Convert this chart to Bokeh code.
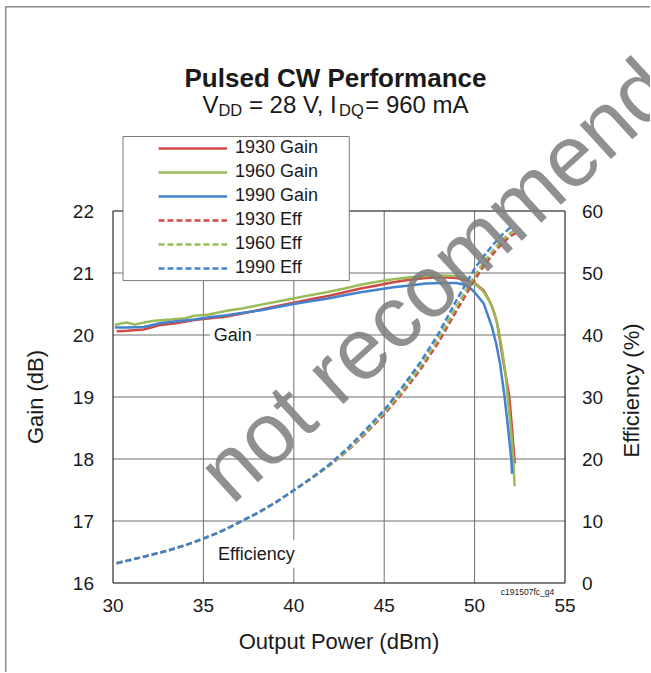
import math
from bokeh.plotting import figure
from bokeh.models import Range1d, LinearAxis, FixedTicker, Label, Legend, LegendItem
from bokeh.embed import file_html
from bokeh.resources import INLINE

# ---------------- data ----------------
gain_1930_x = [30.2, 30.8, 31.7, 32.6, 33.5, 34.5, 35.4, 36.3, 37.2, 38.2, 39.1, 40.0, 41.0, 41.9,
               42.8, 43.7, 44.6, 45.5, 46.4, 47.3, 48.2, 49.0, 49.6, 50.0, 50.5, 50.77, 51.0,
               51.24, 51.42, 51.6, 51.75, 51.92, 52.07, 52.2, 52.23]
gain_1930_y = [20.06, 20.07, 20.09, 20.16, 20.19, 20.24, 20.27, 20.30, 20.35, 20.41, 20.47, 20.52,
               20.58, 20.63, 20.69, 20.75, 20.80, 20.85, 20.89, 20.92, 20.93, 20.92, 20.88, 20.84,
               20.72, 20.58, 20.43, 20.20, 19.88, 19.55, 19.30, 19.00, 18.50, 18.00, 17.93]

gain_1960_x = [30.1, 30.5, 30.8, 31.2, 31.7, 32.3, 33.2, 34.0, 34.5, 35.3, 36.3, 37.2, 38.2, 39.1,
               40.0, 40.9, 41.8, 42.8, 43.7, 44.6, 45.5, 46.4, 47.3, 48.2, 49.0, 49.5, 50.0, 50.5,
               50.87, 51.1, 51.3, 51.5, 51.7, 51.83, 52.0, 52.14, 52.21]
gain_1960_y = [20.16, 20.19, 20.20, 20.17, 20.20, 20.23, 20.25, 20.27, 20.31, 20.33, 20.39, 20.43,
               20.49, 20.54, 20.59, 20.64, 20.69, 20.75, 20.81, 20.86, 20.90, 20.93, 20.95, 20.96,
               20.95, 20.92, 20.83, 20.70, 20.52, 20.35, 20.12, 19.80, 19.40, 19.00, 18.50, 18.00,
               17.56]

gain_1990_x = [30.1, 30.8, 31.7, 32.6, 33.5, 34.5, 35.4, 36.3, 37.2, 38.2, 39.1, 40.0, 41.0, 41.9,
               42.8, 43.7, 44.6, 45.5, 46.4, 47.3, 48.2, 49.0, 49.6, 50.0, 50.5, 50.96, 51.2, 51.4,
               51.66, 51.85, 52.03, 52.07]
gain_1990_y = [20.12, 20.12, 20.13, 20.19, 20.22, 20.25, 20.29, 20.32, 20.36, 20.40, 20.45, 20.50,
               20.55, 20.59, 20.64, 20.69, 20.73, 20.77, 20.80, 20.83, 20.84, 20.84, 20.80, 20.69,
               20.51, 20.13, 19.85, 19.55, 19.00, 18.50, 18.00, 17.76]

eff_x_1930 = [30.2, 31, 32, 33, 34, 35, 36, 37, 38, 39, 40, 41, 42, 43, 44, 45, 46, 47, 48, 49,
              50, 50.5, 51, 51.5, 52.0, 52.25]
eff_1930 = [3.2, 3.75, 4.45, 5.2, 6.1, 7.15, 8.35, 9.8, 11.3, 13.0, 14.95, 16.9, 19.0, 21.4, 24.2,
            27.2, 30.6, 34.4, 38.8, 43.9, 48.9, 51.1, 53.0, 54.7, 56.0, 56.4]
eff_x_1960 = [30.2, 31, 32, 33, 34, 35, 36, 37, 38, 39, 40, 41, 42, 43, 44, 45, 46, 47, 48, 49,
              50, 50.5, 51, 51.5, 52.0, 52.25]
eff_1960 = [3.2, 3.75, 4.45, 5.2, 6.1, 7.15, 8.35, 9.8, 11.3, 13.0, 14.95, 16.9, 19.0, 21.5, 24.4,
            27.5, 31.0, 34.9, 39.4, 44.6, 49.6, 51.7, 53.6, 55.3, 56.5, 56.9]
eff_x_1990 = [30.2, 31, 32, 33, 34, 35, 36, 37, 38, 39, 40, 41, 42, 43, 44, 45, 46, 47, 48, 49,
              50, 50.5, 51, 51.5, 52.0, 52.12]
eff_1990 = [3.2, 3.75, 4.45, 5.2, 6.1, 7.15, 8.35, 9.8, 11.3, 13.0, 14.95, 17.0, 19.2, 21.8, 24.8,
            27.9, 31.6, 35.6, 40.2, 45.6, 50.7, 52.7, 54.5, 56.1, 57.4, 57.6]

x_ticks = [30, 35, 40, 45, 50, 55]
gain_ticks = [16, 17, 18, 19, 20, 21, 22]
eff_ticks = [0, 10, 20, 30, 40, 50, 60]

series_names = ["1930 Gain", "1960 Gain", "1990 Gain", "1930 Eff", "1960 Eff", "1990 Eff"]

# ---------------- styling / geometry ----------------
FONT = "Liberation Sans"
TXT = "#1a1a1a"
RED, GREEN, BLUE = "#CF4A46", "#9BBB59", "#4382CC"
GRID = "#6f6f6f"

W, H = 650, 672
# pixel box of the plotting area on the canvas
PX0, PX1, PY0, PY1 = 112.5, 564.5, 210.5, 582.5
XA, XB = x_ticks[0], x_ticks[-1]
YA, YB = gain_ticks[0], gain_ticks[-1]
EA, EB = eff_ticks[0], eff_ticks[-1]
kx = (XB - XA) / (PX1 - PX0)
ky = (YB - YA) / (PY1 - PY0)
ke = (EB - EA) / (PY1 - PY0)


def X(px):
    return XA + (px - PX0) * kx


def Y(py):
    return YA + (PY1 - py) * ky


p = figure(width=W, height=H, output_backend="svg", toolbar_location=None,
           x_range=Range1d(X(0), X(W)), y_range=Range1d(Y(H), Y(0)),
           min_border_left=0, min_border_top=0, min_border_right=0, min_border_bottom=0,
           x_axis_location=None, y_axis_location=None)
p.extra_y_ranges = {"eff": Range1d(EA + (PY1 - H) * ke, EA + PY1 * ke)}
p.background_fill_color = "white"
p.border_fill_color = "white"
p.outline_line_color = None
p.grid.visible = False

# axes fixed at the edges of the plotting area
bottom = LinearAxis(ticker=FixedTicker(ticks=x_ticks), fixed_location=YA, bounds=(XA, XB))
left = LinearAxis(ticker=FixedTicker(ticks=gain_ticks), fixed_location=XA, bounds=(YA, YB))
right = LinearAxis(y_range_name="eff", ticker=FixedTicker(ticks=eff_ticks), fixed_location=XB,
                   bounds=(EA, EB))
p.add_layout(bottom, "below")
p.add_layout(left, "left")
p.add_layout(right, "right")
for ax in [bottom, left, right]:
    ax.axis_line_color = None
    ax.major_tick_line_color = None
    ax.minor_tick_line_color = None
    ax.major_tick_out = 0
    ax.major_tick_in = 0
    ax.major_label_text_font = FONT
    ax.major_label_text_font_size = "19px"
    ax.major_label_text_color = TXT
bottom.major_label_standoff = 16
left.major_label_standoff = 19
right.major_label_standoff = 17

# grid lines and plot frame
p.segment(x0=x_ticks[1:-1], x1=x_ticks[1:-1], y0=[YA] * 4, y1=[YB] * 4,
          line_color=GRID, line_width=1)
p.segment(x0=[XA] * 5, x1=[XB] * 5, y0=gain_ticks[1:-1], y1=gain_ticks[1:-1],
          line_color=GRID, line_width=1)
p.quad(left=[XA], right=[XB], bottom=[YA], top=[YB], fill_color=None,
       line_color="#000000", line_width=1)

# lines
r1 = p.line(gain_1930_x, gain_1930_y, line_color=RED, line_width=2.5)
r2 = p.line(gain_1960_x, gain_1960_y, line_color=GREEN, line_width=2.5)
r3 = p.line(gain_1990_x, gain_1990_y, line_color=BLUE, line_width=2.5)
r4 = p.line(eff_x_1930, eff_1930, line_color=RED, line_width=2.5, line_dash="6 3",
            y_range_name="eff")
r5 = p.line(eff_x_1960, eff_1960, line_color=GREEN, line_width=2.5, line_dash="6 3",
            y_range_name="eff")
r6 = p.line(eff_x_1990, eff_1990, line_color=BLUE, line_width=2.5, line_dash="6 3",
            y_range_name="eff")

# axis titles
p.add_layout(Label(x=X(35), y=Y(396.5), text="Gain (dB)", text_font=FONT, text_font_size="22px",
                   text_color=TXT, text_align="center", text_baseline="middle",
                   angle=math.pi / 2))
p.add_layout(Label(x=X(631), y=Y(390), text="Efficiency (%)", text_font=FONT,
                   text_font_size="22px", text_color=TXT, text_align="center",
                   text_baseline="middle", angle=math.pi / 2))
p.add_layout(Label(x=X(338.5), y=Y(641), text="Output Power (dBm)", text_font=FONT,
                   text_font_size="22px", text_color=TXT, text_align="center",
                   text_baseline="middle"))

# outer frame of the figure
p.add_layout(Label(x=X(5.25), y=Y(6.25), text=" ", text_font_size="1px", anchor="top_left",
                   border_line_color="#8a8a8a", border_line_width=1.5,
                   padding=dict(left=0, top=0, right=700, bottom=700)))

# legend box (drawn separately to get the left indent)
p.add_layout(Label(x=X(122.5), y=Y(136), text=" ", text_font_size="1px", anchor="top_left",
                   background_fill_color="white", border_line_color="#7a7a7a",
                   border_line_width=1,
                   padding=dict(left=0, top=0, right=226, bottom=143)))

legend = Legend(items=[LegendItem(label=n, renderers=[r]) for n, r in
                       zip(series_names, [r1, r2, r3, r4, r5, r6])],
                location=(158, H - 278), background_fill_alpha=0, border_line_color=None,
                padding=4, spacing=3, glyph_width=69, glyph_height=20, label_height=20,
                label_standoff=8, label_text_font=FONT, label_text_font_size="18px",
                label_text_color=TXT, margin=0)
p.add_layout(legend, "center")

# in-plot labels
p.add_layout(Label(x=36.63, y=20, text="Gain", text_font=FONT, text_font_size="18px",
                   text_color=TXT, text_align="center", text_baseline="middle",
                   background_fill_color="white", padding=4))
p.add_layout(Label(x=37.93, y=16.47, text="Efficiency", text_font=FONT, text_font_size="18px",
                   text_color=TXT, text_align="center", text_baseline="middle",
                   background_fill_color="white", padding=4))
p.add_layout(Label(x=X(527), y=Y(591), text="c191507fc_g4", text_font=FONT,
                   text_font_size="8.5px", text_color=TXT, text_align="center",
                   text_baseline="middle"))

# title
p.add_layout(Label(x=X(335), y=Y(77), text="Pulsed CW Performance", text_font=FONT,
                   text_font_size="26px", text_font_style="bold", text_color=TXT,
                   text_align="center", text_baseline="alphabetic"))

# subtitle with subscripts (pieces laid out left to right, gaps added explicitly)
AW = {'V': .667, 'D': .722, 'Q': .778, 'I': .278, ' ': .278, '=': .584, '2': .556, '8': .556,
      ',': .278, '9': .556, '6': .556, '0': .556, 'm': .833, 'A': .667}
S_MAIN, S_SUB = 24, 16.5
parts = [("V", S_MAIN, 0, 0), ("DD", S_SUB, 6, 0), ("= 28 V, I", S_MAIN, 0, AW[' '] * S_MAIN),
         ("DQ", S_SUB, 6, 0), ("= 960 mA", S_MAIN, 0, 1.5)]
total = sum(sum(AW[c] for c in t) * s + gap for t, s, _, gap in parts)
xp = 335 - total / 2
for t, s, drop, gap in parts:
    xp += gap
    p.add_layout(Label(x=X(xp), y=Y(103.5 + drop), text=t, text_font=FONT,
                       text_font_size=f"{s}px", text_color=TXT, text_align="left",
                       text_baseline="alphabetic"))
    xp += sum(AW[c] for c in t) * s

# watermark
p.add_layout(Label(x=X(211), y=Y(483), text="not recommended", text_font=FONT,
                   text_font_size="87px", text_color="#7d7d7d", text_alpha=0.85,
                   angle=math.radians(42.5), text_align="left", text_baseline="alphabetic"))

open("out.html", "w").write(file_html(p, INLINE))
